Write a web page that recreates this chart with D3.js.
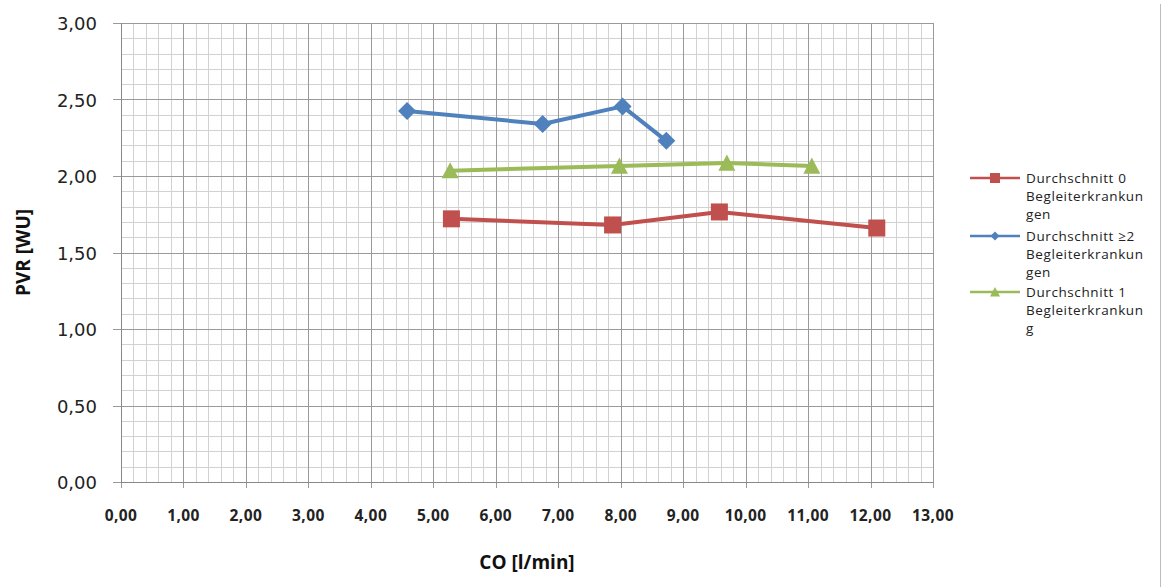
<!DOCTYPE html>
<html>
<head>
<meta charset="utf-8">
<script src="https://cdn.jsdelivr.net/npm/d3@7"></script>
<style>
    body { margin: 0; background: #fff; }
    svg { display: block; }
    .ytick { font-family: "DejaVu Sans", sans-serif; font-size: 18px; fill: #222; }
    .xtick { font-family: "Open Sans", sans-serif; font-weight: bold; font-size: 15.5px; fill: #222; letter-spacing: 0.4px; }
    .title { font-family: "Open Sans", sans-serif; font-weight: bold; font-size: 19px; fill: #111; }
    .legend { font-family: "Open Sans", sans-serif; font-size: 13.5px; fill: #222; letter-spacing: 0.6px; }
</style>
</head>
<body>
<div id="chartDiv"></div>
<script>
// series data (x = CO, y = PVR)
const series_names = ["Durchschnitt 0 Begleiterkrankungen", "Durchschnitt ≥2 Begleiterkrankungen", "Durchschnitt 1 Begleiterkrankung"];
const legend_lines = [
    ["Durchschnitt 0", "Begleiterkrankun", "gen"],
    ["Durchschnitt ≥2", "Begleiterkrankun", "gen"],
    ["Durchschnitt 1", "Begleiterkrankun", "g"]
];
const co_0 = [5.29, 7.87, 9.58, 12.10];
const pvr_0 = [1.72, 1.68, 1.765, 1.66];
const co_2 = [4.58, 6.75, 8.03, 8.73];
const pvr_2 = [2.425, 2.34, 2.455, 2.23];
const co_1 = [5.27, 7.98, 9.70, 11.06];
const pvr_1 = [2.035, 2.065, 2.085, 2.065];
const series_colors = ["#C0504D", "#4F81BD", "#9BBB59"];
const series_markers = ["square", "diamond", "triangle"];

const x_ticks = d3.range(0, 13.001, 1);
const y_ticks = d3.range(0, 3.001, 0.5);
const x_minor = d3.range(0, 13.001, 0.2);
const y_minor = d3.range(0, 3.001, 0.1);

const fmt = d => d.toFixed(2).replace('.', ',');

const width = 1161, height = 587;
const margin = {top: 23, right: 228, bottom: 105, left: 121};

let svg = d3.select("#chartDiv").append("svg")
    .attr("width", width)
    .attr("height", height);

let x = d3.scaleLinear().domain([0, 13]).range([margin.left, width - margin.right]);
let y = d3.scaleLinear().domain([0, 3]).range([height - margin.bottom, margin.top]);

const px = v => Math.round(v) + 0.5;

// outer border on the right
svg.append('line')
    .attr('x1', 1160.5).attr('x2', 1160.5)
    .attr('y1', 4).attr('y2', height)
    .style('stroke', '#bdbdbd').style('stroke-width', 1);

// minor grid
let grid = svg.append('g').attr('class', 'grid');
grid.selectAll('line.vminor')
    .data(x_minor)
    .enter().append('line')
    .attr('x1', d => px(x(d))).attr('x2', d => px(x(d)))
    .attr('y1', y(3)).attr('y2', y(0))
    .style('stroke', '#d2d2d2').style('stroke-width', 1);
grid.selectAll('line.hminor')
    .data(y_minor)
    .enter().append('line')
    .attr('x1', x(0)).attr('x2', x(13))
    .attr('y1', d => px(y(d))).attr('y2', d => px(y(d)))
    .style('stroke', '#d2d2d2').style('stroke-width', 1);
// major grid
grid.selectAll('line.vmajor')
    .data(x_ticks)
    .enter().append('line')
    .attr('x1', d => px(x(d))).attr('x2', d => px(x(d)))
    .attr('y1', y(3)).attr('y2', y(0) + 6)
    .style('stroke', '#9a9a9a').style('stroke-width', 1);
grid.selectAll('line.hmajor')
    .data(y_ticks)
    .enter().append('line')
    .attr('x1', x(0) - 8).attr('x2', x(13))
    .attr('y1', d => px(y(d))).attr('y2', d => px(y(d)))
    .style('stroke', '#9a9a9a').style('stroke-width', 1);

// axis lines
svg.append('line')
    .attr('x1', px(x(0))).attr('x2', px(x(0)))
    .attr('y1', y(3)).attr('y2', y(0))
    .style('stroke', '#888').style('stroke-width', 1);
svg.append('line')
    .attr('x1', x(0)).attr('x2', x(13))
    .attr('y1', px(y(0))).attr('y2', px(y(0)))
    .style('stroke', '#888').style('stroke-width', 1);

// tick labels
svg.selectAll('text.ytick')
    .data(y_ticks)
    .enter().append('text')
    .attr('class', 'ytick')
    .attr('x', x(0) - 24)
    .attr('y', d => y(d) + 7)
    .style('text-anchor', 'end')
    .text(fmt);

svg.selectAll('text.xtick')
    .data(x_ticks)
    .enter().append('text')
    .attr('class', 'xtick')
    .attr('x', d => x(d))
    .attr('y', y(0) + 39)
    .style('text-anchor', 'middle')
    .text(fmt);

// axis titles
svg.append('text')
    .attr('class', 'title')
    .attr('x', (x(0) + x(13)) / 2)
    .attr('y', 569)
    .style('text-anchor', 'middle')
    .text('CO [l/min]');

svg.append('text')
    .attr('class', 'title')
    .attr('transform', `translate(30, ${(y(0) + y(3)) / 2}) rotate(-90)`)
    .style('text-anchor', 'middle')
    .text('PVR [WU]');

// markers
function marker(sel, type, size, color) {
    if (type === 'square') {
        sel.append('rect')
            .attr('x', -size / 2).attr('y', -size / 2)
            .attr('width', size).attr('height', size)
            .style('fill', color);
    } else if (type === 'diamond') {
        const s = size / 2;
        sel.append('path')
            .attr('d', `M0,${-s}L${s},0L0,${s}L${-s},0Z`)
            .style('fill', color);
    } else {
        const s = size / 2;
        sel.append('path')
            .attr('d', `M0,${-s}L${s},${s * 0.9}L${-s},${s * 0.9}Z`)
            .style('fill', color);
    }
}

const all_series = [
    {co: co_0, pvr: pvr_0},
    {co: co_2, pvr: pvr_2},
    {co: co_1, pvr: pvr_1}
];
const marker_size = [17, 18, 17];

let line = d3.line().x(d => x(d[0])).y(d => y(d[1]));

all_series.forEach((s, i) => {
    const pts = s.co.map((c, j) => [c, s.pvr[j]]);
    svg.append('path')
        .attr('d', line(pts))
        .style('fill', 'none')
        .style('stroke', series_colors[i])
        .style('stroke-width', 4)
        .style('stroke-linejoin', 'round');
    pts.forEach(p => {
        let g = svg.append('g').attr('transform', `translate(${x(p[0])}, ${y(p[1])})`);
        marker(g, series_markers[i], marker_size[i], series_colors[i]);
    });
});

// legend
const legend_y = [178, 236, 292];
series_names.forEach((name, i) => {
    let g = svg.append('g').attr('transform', `translate(970, ${legend_y[i]})`);
    g.append('line')
        .attr('x1', 0).attr('x2', 50)
        .style('stroke', series_colors[i])
        .style('stroke-width', 2.5);
    let m = g.append('g').attr('transform', 'translate(25, 0)');
    marker(m, series_markers[i], [10, 9, 10][i], series_colors[i]);
    let t = g.append('text')
        .attr('class', 'legend')
        .attr('x', 56)
        .attr('y', 5);
    legend_lines[i].forEach((l, k) => {
        t.append('tspan')
            .attr('x', 56)
            .attr('dy', k === 0 ? 0 : 18)
            .text(l);
    });
});
</script>
</body>
</html>
